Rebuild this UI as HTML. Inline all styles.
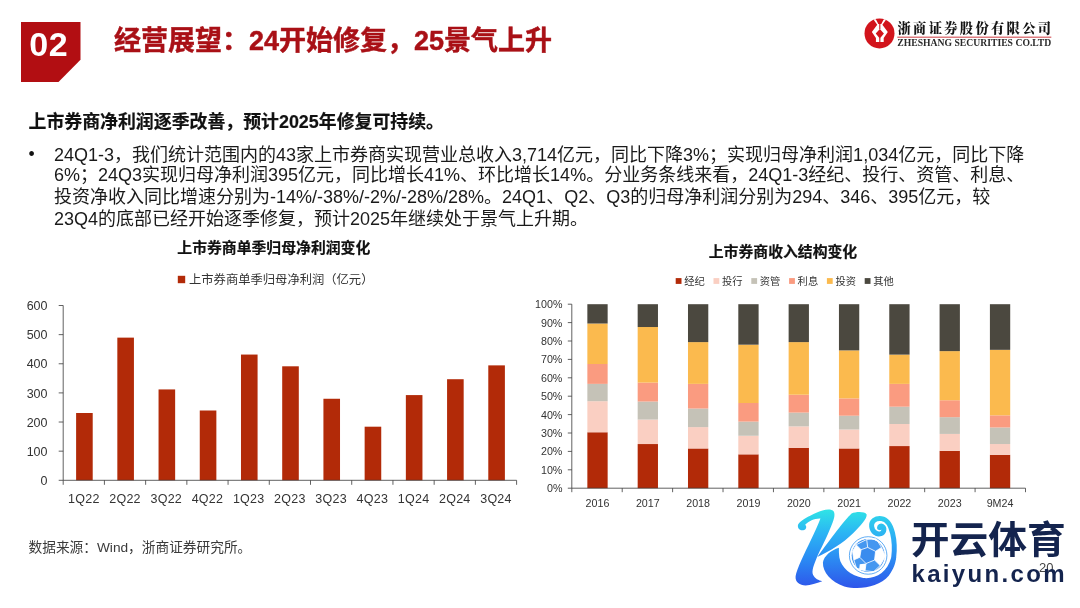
<!DOCTYPE html>
<html lang="zh-CN"><head><meta charset="utf-8"><title>经营展望</title>
<style>
html,body{margin:0;padding:0;background:#fff;}
body{width:1080px;height:608px;position:relative;overflow:hidden;font-family:"Liberation Sans","Noto Sans CJK SC",sans-serif;color:#111;}
.abs{position:absolute;white-space:nowrap;}
#num{left:21px;top:22px;width:59.5px;height:60px;background:#B20E12;clip-path:polygon(0 0,100% 0,100% 63%,63% 100%,0 100%);}
#num span{position:absolute;left:8.3px;top:2.6px;font-size:34px;font-weight:bold;color:#fff;letter-spacing:0.6px;}
#title{left:114px;top:22.8px;font-size:27px;font-weight:bold;color:#A91016;-webkit-text-stroke:0.45px #A91016;line-height:36px;}
#h2{left:28.5px;top:110px;font-size:17.9px;font-weight:bold;line-height:24px;color:#111;-webkit-text-stroke:0.2px #111;}
.p{left:54px;font-size:18px;line-height:21px;color:#1a1a1a;}
#bul{left:28.6px;top:144.2px;font-size:17.6px;line-height:21px;}
.ct{font-size:14.85px;font-weight:bold;color:#111;-webkit-text-stroke:0.2px #111;transform:translateX(-50%);}
#src{left:28.5px;top:538.6px;font-size:13.7px;color:#3a3a3a;line-height:18px;}
svg text{font-family:"Liberation Sans","Noto Sans CJK SC",sans-serif;fill:#333;}
.ax{font-size:12.5px;letter-spacing:0.25px;} .ay{font-size:12.5px;}
.ax2{font-size:10.7px;} .ay2{font-size:10.7px;}
.lg2{font-size:10.3px;}
.lg1{font-size:12.3px;}
</style></head><body>
<div id="num" class="abs"><span>02</span></div>
<div id="title" class="abs">经营展望：24开始修复，25景气上升</div>
<div id="h2" class="abs">上市券商净利润逐季改善，预计2025年修复可持续。</div>
<div id="bul" class="abs">•</div>
<div class="abs p" style="top:144.6px">24Q1-3，我们统计范围内的43家上市券商实现营业总收入3,714亿元，同比下降3%；实现归母净利润1,034亿元，同比下降</div>
<div class="abs p" style="top:165.35px">6%；24Q3实现归母净利润395亿元，同比增长41%、环比增长14%。分业务条线来看，24Q1-3经纪、投行、资管、利息、</div>
<div class="abs p" style="top:187.3px">投资净收入同比增速分别为-14%/-38%/-2%/-28%/28%。24Q1、Q2、Q3的归母净利润分别为294、346、395亿元，较</div>
<div class="abs p" style="top:209.1px">23Q4的底部已经开始逐季修复，预计2025年继续处于景气上升期。</div>
<div class="abs ct" style="left:273.8px;top:236.3px">上市券商单季归母净利润变化</div>
<div class="abs ct" style="left:783px;top:240px">上市券商收入结构变化</div>
<svg class="abs" style="left:0;top:0" width="1080" height="608" viewBox="0 0 1080 608">
<rect x="177.8" y="275.8" width="7.4" height="7.4" fill="#B22A08"/>
<text x="189" y="284" class="lg1">上市券商单季归母净利润（亿元）</text>
<rect x="76.11" y="413.00" width="16.6" height="67.30" fill="#B22A08"/>
<text x="83.81" y="502.6" text-anchor="middle" class="ax">1Q22</text>
<rect x="117.33" y="337.63" width="16.6" height="142.67" fill="#B22A08"/>
<text x="125.03" y="502.6" text-anchor="middle" class="ax">2Q22</text>
<rect x="158.55" y="389.43" width="16.6" height="90.87" fill="#B22A08"/>
<text x="166.25" y="502.6" text-anchor="middle" class="ax">3Q22</text>
<rect x="199.76" y="410.50" width="16.6" height="69.80" fill="#B22A08"/>
<text x="207.46" y="502.6" text-anchor="middle" class="ax">4Q22</text>
<rect x="240.98" y="354.56" width="16.6" height="125.74" fill="#B22A08"/>
<text x="248.68" y="502.6" text-anchor="middle" class="ax">1Q23</text>
<rect x="282.20" y="366.30" width="16.6" height="114.00" fill="#B22A08"/>
<text x="289.90" y="502.6" text-anchor="middle" class="ax">2Q23</text>
<rect x="323.42" y="398.76" width="16.6" height="81.54" fill="#B22A08"/>
<text x="331.12" y="502.6" text-anchor="middle" class="ax">3Q23</text>
<rect x="364.64" y="426.69" width="16.6" height="53.61" fill="#B22A08"/>
<text x="372.34" y="502.6" text-anchor="middle" class="ax">4Q23</text>
<rect x="405.85" y="395.09" width="16.6" height="85.22" fill="#B22A08"/>
<text x="413.55" y="502.6" text-anchor="middle" class="ax">1Q24</text>
<rect x="447.07" y="379.21" width="16.6" height="101.09" fill="#B22A08"/>
<text x="454.77" y="502.6" text-anchor="middle" class="ax">2Q24</text>
<rect x="488.29" y="365.37" width="16.6" height="114.93" fill="#B22A08"/>
<text x="495.99" y="502.6" text-anchor="middle" class="ax">3Q24</text>
<path d="M63.2 305.5 V480.3 H516.6" fill="none" stroke="#3a3a3a" stroke-width="0.8"/>
<path d="M63.20 480.3 v4.5" stroke="#3a3a3a" stroke-width="0.8"/>
<path d="M104.42 480.3 v4.5" stroke="#3a3a3a" stroke-width="0.8"/>
<path d="M145.64 480.3 v4.5" stroke="#3a3a3a" stroke-width="0.8"/>
<path d="M186.85 480.3 v4.5" stroke="#3a3a3a" stroke-width="0.8"/>
<path d="M228.07 480.3 v4.5" stroke="#3a3a3a" stroke-width="0.8"/>
<path d="M269.29 480.3 v4.5" stroke="#3a3a3a" stroke-width="0.8"/>
<path d="M310.51 480.3 v4.5" stroke="#3a3a3a" stroke-width="0.8"/>
<path d="M351.73 480.3 v4.5" stroke="#3a3a3a" stroke-width="0.8"/>
<path d="M392.95 480.3 v4.5" stroke="#3a3a3a" stroke-width="0.8"/>
<path d="M434.16 480.3 v4.5" stroke="#3a3a3a" stroke-width="0.8"/>
<path d="M475.38 480.3 v4.5" stroke="#3a3a3a" stroke-width="0.8"/>
<path d="M516.60 480.3 v4.5" stroke="#3a3a3a" stroke-width="0.8"/>
<path d="M58.7 480.30 h4.5" stroke="#3a3a3a" stroke-width="0.8"/>
<text x="47.5" y="484.90" text-anchor="end" class="ay">0</text>
<path d="M58.7 451.17 h4.5" stroke="#3a3a3a" stroke-width="0.8"/>
<text x="47.5" y="455.77" text-anchor="end" class="ay">100</text>
<path d="M58.7 422.03 h4.5" stroke="#3a3a3a" stroke-width="0.8"/>
<text x="47.5" y="426.63" text-anchor="end" class="ay">200</text>
<path d="M58.7 392.90 h4.5" stroke="#3a3a3a" stroke-width="0.8"/>
<text x="47.5" y="397.50" text-anchor="end" class="ay">300</text>
<path d="M58.7 363.77 h4.5" stroke="#3a3a3a" stroke-width="0.8"/>
<text x="47.5" y="368.37" text-anchor="end" class="ay">400</text>
<path d="M58.7 334.63 h4.5" stroke="#3a3a3a" stroke-width="0.8"/>
<text x="47.5" y="339.23" text-anchor="end" class="ay">500</text>
<path d="M58.7 305.50 h4.5" stroke="#3a3a3a" stroke-width="0.8"/>
<text x="47.5" y="310.10" text-anchor="end" class="ay">600</text>
<rect x="587.35" y="432.26" width="20.3" height="55.94" fill="#B22A08"/>
<rect x="587.35" y="401.17" width="20.3" height="31.10" fill="#FACFC2"/>
<rect x="587.35" y="383.87" width="20.3" height="17.30" fill="#C5C2B7"/>
<rect x="587.35" y="364.00" width="20.3" height="19.87" fill="#FA9B80"/>
<rect x="587.35" y="323.52" width="20.3" height="40.48" fill="#FBBA4E"/>
<rect x="587.35" y="304.20" width="20.3" height="19.32" fill="#4B483F"/>
<text x="597.50" y="506.6" text-anchor="middle" class="ax2">2016</text>
<rect x="637.67" y="444.04" width="20.3" height="44.16" fill="#B22A08"/>
<rect x="637.67" y="419.57" width="20.3" height="24.47" fill="#FACFC2"/>
<rect x="637.67" y="401.54" width="20.3" height="18.03" fill="#C5C2B7"/>
<rect x="637.67" y="382.58" width="20.3" height="18.95" fill="#FA9B80"/>
<rect x="637.67" y="327.02" width="20.3" height="55.57" fill="#FBBA4E"/>
<rect x="637.67" y="304.20" width="20.3" height="22.82" fill="#4B483F"/>
<text x="647.82" y="506.6" text-anchor="middle" class="ax2">2017</text>
<rect x="687.99" y="448.46" width="20.3" height="39.74" fill="#B22A08"/>
<rect x="687.99" y="427.11" width="20.3" height="21.34" fill="#FACFC2"/>
<rect x="687.99" y="408.53" width="20.3" height="18.58" fill="#C5C2B7"/>
<rect x="687.99" y="383.87" width="20.3" height="24.66" fill="#FA9B80"/>
<rect x="687.99" y="342.10" width="20.3" height="41.77" fill="#FBBA4E"/>
<rect x="687.99" y="304.20" width="20.3" height="37.90" fill="#4B483F"/>
<text x="698.14" y="506.6" text-anchor="middle" class="ax2">2018</text>
<rect x="738.31" y="454.34" width="20.3" height="33.86" fill="#B22A08"/>
<rect x="738.31" y="435.76" width="20.3" height="18.58" fill="#FACFC2"/>
<rect x="738.31" y="421.59" width="20.3" height="14.17" fill="#C5C2B7"/>
<rect x="738.31" y="403.01" width="20.3" height="18.58" fill="#FA9B80"/>
<rect x="738.31" y="344.68" width="20.3" height="58.33" fill="#FBBA4E"/>
<rect x="738.31" y="304.20" width="20.3" height="40.48" fill="#4B483F"/>
<text x="748.46" y="506.6" text-anchor="middle" class="ax2">2019</text>
<rect x="788.63" y="447.81" width="20.3" height="40.39" fill="#B22A08"/>
<rect x="788.63" y="426.38" width="20.3" height="21.44" fill="#FACFC2"/>
<rect x="788.63" y="412.58" width="20.3" height="13.80" fill="#C5C2B7"/>
<rect x="788.63" y="394.73" width="20.3" height="17.85" fill="#FA9B80"/>
<rect x="788.63" y="342.10" width="20.3" height="52.62" fill="#FBBA4E"/>
<rect x="788.63" y="304.20" width="20.3" height="37.90" fill="#4B483F"/>
<text x="798.78" y="506.6" text-anchor="middle" class="ax2">2020</text>
<rect x="838.95" y="448.46" width="20.3" height="39.74" fill="#B22A08"/>
<rect x="838.95" y="429.50" width="20.3" height="18.95" fill="#FACFC2"/>
<rect x="838.95" y="415.70" width="20.3" height="13.80" fill="#C5C2B7"/>
<rect x="838.95" y="398.41" width="20.3" height="17.30" fill="#FA9B80"/>
<rect x="838.95" y="350.38" width="20.3" height="48.02" fill="#FBBA4E"/>
<rect x="838.95" y="304.20" width="20.3" height="46.18" fill="#4B483F"/>
<text x="849.10" y="506.6" text-anchor="middle" class="ax2">2021</text>
<rect x="889.27" y="446.06" width="20.3" height="42.14" fill="#B22A08"/>
<rect x="889.27" y="423.98" width="20.3" height="22.08" fill="#FACFC2"/>
<rect x="889.27" y="406.69" width="20.3" height="17.30" fill="#C5C2B7"/>
<rect x="889.27" y="383.87" width="20.3" height="22.82" fill="#FA9B80"/>
<rect x="889.27" y="354.62" width="20.3" height="29.26" fill="#FBBA4E"/>
<rect x="889.27" y="304.20" width="20.3" height="50.42" fill="#4B483F"/>
<text x="899.42" y="506.6" text-anchor="middle" class="ax2">2022</text>
<rect x="939.59" y="450.85" width="20.3" height="37.35" fill="#B22A08"/>
<rect x="939.59" y="433.92" width="20.3" height="16.93" fill="#FACFC2"/>
<rect x="939.59" y="417.18" width="20.3" height="16.74" fill="#C5C2B7"/>
<rect x="939.59" y="400.25" width="20.3" height="16.93" fill="#FA9B80"/>
<rect x="939.59" y="351.12" width="20.3" height="49.13" fill="#FBBA4E"/>
<rect x="939.59" y="304.20" width="20.3" height="46.92" fill="#4B483F"/>
<text x="949.74" y="506.6" text-anchor="middle" class="ax2">2023</text>
<rect x="989.91" y="454.80" width="20.3" height="33.40" fill="#B22A08"/>
<rect x="989.91" y="444.04" width="20.3" height="10.76" fill="#FACFC2"/>
<rect x="989.91" y="427.48" width="20.3" height="16.56" fill="#C5C2B7"/>
<rect x="989.91" y="415.34" width="20.3" height="12.14" fill="#FA9B80"/>
<rect x="989.91" y="349.83" width="20.3" height="65.50" fill="#FBBA4E"/>
<rect x="989.91" y="304.20" width="20.3" height="45.63" fill="#4B483F"/>
<text x="1000.06" y="506.6" text-anchor="middle" class="ax2">9M24</text>
<path d="M571.8 304.2 V488.2 H1025.5" fill="none" stroke="#3a3a3a" stroke-width="0.8"/>
<path d="M571.80 488.2 v4" stroke="#3a3a3a" stroke-width="0.8"/>
<path d="M622.21 488.2 v4" stroke="#3a3a3a" stroke-width="0.8"/>
<path d="M672.62 488.2 v4" stroke="#3a3a3a" stroke-width="0.8"/>
<path d="M723.03 488.2 v4" stroke="#3a3a3a" stroke-width="0.8"/>
<path d="M773.44 488.2 v4" stroke="#3a3a3a" stroke-width="0.8"/>
<path d="M823.86 488.2 v4" stroke="#3a3a3a" stroke-width="0.8"/>
<path d="M874.27 488.2 v4" stroke="#3a3a3a" stroke-width="0.8"/>
<path d="M924.68 488.2 v4" stroke="#3a3a3a" stroke-width="0.8"/>
<path d="M975.09 488.2 v4" stroke="#3a3a3a" stroke-width="0.8"/>
<path d="M1025.50 488.2 v4" stroke="#3a3a3a" stroke-width="0.8"/>
<path d="M567.8 488.20 h4" stroke="#3a3a3a" stroke-width="0.8"/>
<text x="562.4" y="492.10" text-anchor="end" class="ay2">0%</text>
<path d="M567.8 469.80 h4" stroke="#3a3a3a" stroke-width="0.8"/>
<text x="562.4" y="473.70" text-anchor="end" class="ay2">10%</text>
<path d="M567.8 451.40 h4" stroke="#3a3a3a" stroke-width="0.8"/>
<text x="562.4" y="455.30" text-anchor="end" class="ay2">20%</text>
<path d="M567.8 433.00 h4" stroke="#3a3a3a" stroke-width="0.8"/>
<text x="562.4" y="436.90" text-anchor="end" class="ay2">30%</text>
<path d="M567.8 414.60 h4" stroke="#3a3a3a" stroke-width="0.8"/>
<text x="562.4" y="418.50" text-anchor="end" class="ay2">40%</text>
<path d="M567.8 396.20 h4" stroke="#3a3a3a" stroke-width="0.8"/>
<text x="562.4" y="400.10" text-anchor="end" class="ay2">50%</text>
<path d="M567.8 377.80 h4" stroke="#3a3a3a" stroke-width="0.8"/>
<text x="562.4" y="381.70" text-anchor="end" class="ay2">60%</text>
<path d="M567.8 359.40 h4" stroke="#3a3a3a" stroke-width="0.8"/>
<text x="562.4" y="363.30" text-anchor="end" class="ay2">70%</text>
<path d="M567.8 341.00 h4" stroke="#3a3a3a" stroke-width="0.8"/>
<text x="562.4" y="344.90" text-anchor="end" class="ay2">80%</text>
<path d="M567.8 322.60 h4" stroke="#3a3a3a" stroke-width="0.8"/>
<text x="562.4" y="326.50" text-anchor="end" class="ay2">90%</text>
<path d="M567.8 304.20 h4" stroke="#3a3a3a" stroke-width="0.8"/>
<text x="562.4" y="308.10" text-anchor="end" class="ay2">100%</text>
<rect x="675.7" y="278.1" width="5.8" height="5.8" fill="#B22A08"/>
<text x="684.2" y="284.6" class="lg2">经纪</text>
<rect x="713.5" y="278.1" width="5.8" height="5.8" fill="#FACFC2"/>
<text x="722.0" y="284.6" class="lg2">投行</text>
<rect x="751.3" y="278.1" width="5.8" height="5.8" fill="#C5C2B7"/>
<text x="759.8" y="284.6" class="lg2">资管</text>
<rect x="789.1" y="278.1" width="5.8" height="5.8" fill="#FA9B80"/>
<text x="797.6" y="284.6" class="lg2">利息</text>
<rect x="826.9" y="278.1" width="5.8" height="5.8" fill="#FBBA4E"/>
<text x="835.4" y="284.6" class="lg2">投资</text>
<rect x="864.7" y="278.1" width="5.8" height="5.8" fill="#4B483F"/>
<text x="873.2" y="284.6" class="lg2">其他</text>
</svg>
<div id="src" class="abs">数据来源：Wind，浙商证券研究所。</div>
<div class="abs" style="left:1039px;top:560px;font-size:13px;color:#444;line-height:15px">20</div>

<svg class="abs" style="left:850px;top:10px" width="230" height="50" viewBox="850 10 230 50">
<circle cx="879.5" cy="33.4" r="15" fill="#D2141C"/>
<g transform="translate(855,10) scale(0.0926)">
<polygon points="198,100 240,160 182,238 226,302 226,345 310,345 310,302 354,238 296,160 338,100" fill="#fff"/>
<polygon points="224,96 312,96 284,150 274,150 274,205 262,205 262,150 252,150" fill="#D2141C"/>
<polygon points="268,205 312,255 268,308 224,255" fill="#D2141C"/>
<rect x="262" y="300" width="12" height="50" fill="#D2141C"/>
</g>
<text x="897.5" y="33" textLength="153.6" lengthAdjust="spacing" style="font-family:'Liberation Serif','Noto Serif CJK SC',serif;font-weight:900;font-size:13.3px;fill:#151515">浙商证券股份有限公司</text>
<rect x="897.3" y="36.7" width="154" height="0.9" fill="#C8262D"/>
<text x="897.3" y="46" textLength="154" lengthAdjust="spacingAndGlyphs" style="font-family:'Liberation Serif',serif;font-weight:bold;font-size:9.4px;fill:#2a2a2a">ZHESHANG SECURITIES CO.LTD</text>
</svg>


<svg class="abs" style="left:790px;top:500px" width="290" height="108" viewBox="790 500 290 108">
<defs>
<linearGradient id="kg" gradientUnits="userSpaceOnUse" x1="0" y1="60" x2="0" y2="535">
<stop offset="0" stop-color="#2FE3E6"/><stop offset="0.3" stop-color="#2BB4F4"/><stop offset="0.62" stop-color="#2A8CF4"/><stop offset="1" stop-color="#2E55EA"/>
</linearGradient>
<linearGradient id="kg2" gradientUnits="userSpaceOnUse" x1="0" y1="60" x2="0" y2="535">
<stop offset="0" stop-color="#2FD9EA"/><stop offset="0.45" stop-color="#2BA4F6"/><stop offset="1" stop-color="#2E55EA"/>
</linearGradient>
</defs>
<g transform="translate(790,500) scale(0.16456)">
<path fill="url(#kg)" d="M466,88 C455,68 400,70 374,82 C330,125 250,230 166,347 C240,310 320,265 385,200 C430,155 468,115 466,88 Z"/>
<path fill="url(#kg)" d="M266,70 C278,95 262,130 250,160 C225,225 185,300 165,345 C145,395 130,430 140,455 C150,478 175,490 196,494 C160,505 125,520 95,520 C60,520 30,500 34,464 C40,420 90,320 127,243 C150,195 170,150 185,112 C150,110 115,128 92,150 C104,160 100,180 80,184 C58,188 42,168 50,148 C65,125 115,98 160,78 C200,58 250,50 266,70 Z"/>
<path fill="url(#kg2)" d="M297,290 C250,305 205,340 200,380 C198,440 250,500 330,525 C420,548 540,530 600,460 C630,420 642,385 645,350 L615,350 C592,440 520,482 445,474 C370,462 310,410 300,350 C297,330 297,310 297,290 Z"/>
<path fill="none" stroke="url(#kg2)" stroke-width="30" stroke-linecap="round" d="M630,352 C642,260 625,122 556,113 C520,108 492,130 496,160 C500,195 530,212 552,205 C572,198 578,172 560,160 C552,156 545,160 544,168"/>
<circle cx="475" cy="337" r="127" fill="#fff"/>
<circle cx="475" cy="337" r="114" fill="#fff" stroke="#3F9BF1" stroke-width="5"/>
<circle cx="475" cy="337" r="102" fill="#4597F0"/>
<g stroke="#fff" stroke-width="5" fill="none" stroke-linejoin="round">
<polygon points="472,288 520,312 514,365 462,386 424,348 432,302" fill="#3A8CEE"/>
<path d="M472,288 L466,240 M520,312 L556,288 M514,365 L548,398 M462,386 L456,430 M424,348 L388,364 M432,302 L402,272"/>
<path d="M466,240 L402,272 M466,240 L524,236 L556,288 M556,288 L580,342 L548,398 M548,398 L508,436 L456,430 M456,430 L404,414 L388,364 M388,364 L380,312 L402,272"/>
</g>
<polygon points="402,272 432,302 424,348 388,364 380,312" fill="#fff"/>
<polygon points="520,312 556,288 580,342 548,398 514,365" fill="#fff"/>
<polygon points="424,390 462,386 456,430 420,424" fill="#fff"/>
<circle cx="475" cy="337" r="104" fill="none" stroke="#fff" stroke-width="6"/>
</g>
<text x="910.8" y="552.6" textLength="155" lengthAdjust="spacingAndGlyphs" style="font-family:'Liberation Sans','Noto Sans CJK SC',sans-serif;font-weight:700;font-size:37.5px;fill:#14244E">开云体育</text>
<text x="911.5" y="581.7" textLength="153" lengthAdjust="spacing" style="font-family:'Liberation Sans',sans-serif;font-weight:bold;font-size:24px;fill:#14244E">kaiyun.com</text>
</svg>

</body></html>
